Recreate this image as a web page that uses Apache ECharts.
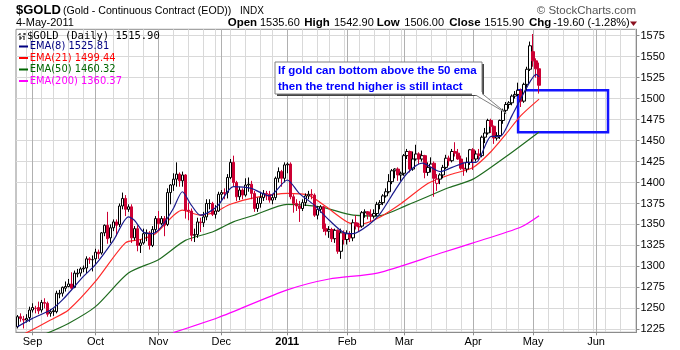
<!DOCTYPE html>
<html>
<head>
<meta charset="utf-8">
<script src="https://cdn.jsdelivr.net/npm/echarts@6/dist/echarts.min.js"></script>
<style>
  html, body { margin: 0; padding: 0; background: #fff; }
  #chart { width: 680px; height: 350px; }
</style>
</head>
<body>
<div id="chart"></div>
<script>
// Trading sessions per month (the axis runs on into June past the last bar)
const sessions = [
  ['2010-08', [25, 26, 27, 30, 31]],
  ['2010-09', [1, 2, 3, 7, 8, 9, 10, 13, 14, 15, 16, 17, 20, 21, 22, 23, 24, 27, 28, 29, 30]],
  ['2010-10', [1, 4, 5, 6, 7, 8, 11, 12, 13, 14, 15, 18, 19, 20, 21, 22, 25, 26, 27, 28, 29]],
  ['2010-11', [1, 2, 3, 4, 5, 8, 9, 10, 11, 12, 15, 16, 17, 18, 19, 22, 23, 24, 26, 29, 30]],
  ['2010-12', [1, 2, 3, 6, 7, 8, 9, 10, 13, 14, 15, 16, 17, 20, 21, 22, 23, 27, 28, 29, 30, 31]],
  ['2011-01', [3, 4, 5, 6, 7, 10, 11, 12, 13, 14, 18, 19, 20, 21, 24, 25, 26, 27, 28, 31]],
  ['2011-02', [1, 2, 3, 4, 7, 8, 9, 10, 11, 14, 15, 16, 17, 18, 22, 23, 24, 25, 28]],
  ['2011-03', [1, 2, 3, 4, 7, 8, 9, 10, 11, 14, 15, 16, 17, 18, 21, 22, 23, 24, 25, 28, 29, 30, 31]],
  ['2011-04', [1, 4, 5, 6, 7, 8, 11, 12, 13, 14, 15, 18, 19, 20, 21, 25, 26, 27, 28, 29]],
  ['2011-05', [2, 3, 4, 5, 6, 9, 10, 11, 12, 13, 16, 17, 18, 19, 20, 23, 24, 25, 26, 27, 31]],
  ['2011-06', [1, 2, 3, 6, 7, 8, 9, 10, 13, 14, 15, 16, 17, 20]]
];

// Daily bars: [open, high, low, close]
const barsAug2010 = [
  [1228, 1242, 1226, 1240], [1240, 1244, 1234, 1238], [1237, 1241, 1226, 1236], [1236, 1243, 1233, 1238],
  [1239, 1252, 1234, 1248]
];
const barsSep2010 = [
  [1248, 1256, 1245, 1251], [1250, 1253, 1244, 1250], [1251, 1258, 1243, 1247], [1248, 1260, 1245, 1257],
  [1257, 1262, 1250, 1256], [1256, 1258, 1240, 1243], [1244, 1249, 1240, 1246], [1247, 1250, 1241, 1246],
  [1246, 1271, 1244, 1268], [1267, 1272, 1262, 1268], [1268, 1276, 1264, 1275], [1274, 1282, 1270, 1276],
  [1276, 1285, 1275, 1279], [1279, 1293, 1272, 1274], [1275, 1295, 1274, 1292], [1291, 1297, 1287, 1292],
  [1292, 1299, 1288, 1297], [1297, 1301, 1293, 1298], [1298, 1312, 1292, 1309], [1309, 1311, 1303, 1308],
  [1308, 1313, 1294, 1308]
];
const barsOct2010 = [
  [1309, 1321, 1303, 1317], [1317, 1320, 1309, 1315], [1316, 1341, 1314, 1340], [1340, 1350, 1336, 1349],
  [1349, 1365, 1327, 1333], [1334, 1350, 1328, 1346], [1346, 1356, 1342, 1353], [1353, 1356, 1336, 1349],
  [1350, 1375, 1347, 1372], [1372, 1388, 1368, 1381], [1381, 1385, 1360, 1368], [1368, 1374, 1365, 1371],
  [1371, 1374, 1328, 1334], [1334, 1348, 1331, 1345], [1345, 1349, 1318, 1325], [1325, 1332, 1316, 1328],
  [1328, 1345, 1326, 1339], [1339, 1344, 1330, 1340], [1340, 1342, 1320, 1325], [1325, 1348, 1323, 1344],
  [1344, 1360, 1340, 1357]
];
const barsNov2010 = [
  [1357, 1366, 1342, 1351], [1351, 1360, 1349, 1357], [1357, 1360, 1336, 1349], [1350, 1393, 1348, 1388],
  [1388, 1398, 1374, 1397], [1397, 1411, 1390, 1404], [1404, 1424, 1395, 1410], [1410, 1412, 1395, 1402],
  [1402, 1413, 1395, 1409], [1409, 1410, 1357, 1367], [1367, 1376, 1355, 1366], [1366, 1369, 1330, 1337],
  [1337, 1345, 1329, 1338], [1338, 1358, 1334, 1353], [1353, 1358, 1341, 1352], [1352, 1365, 1347, 1359],
  [1359, 1380, 1355, 1375], [1375, 1380, 1368, 1375], [1375, 1377, 1360, 1362], [1362, 1373, 1357, 1366],
  [1366, 1389, 1365, 1386]
];
const barsDec2010 = [
  [1386, 1391, 1378, 1388], [1388, 1393, 1380, 1387], [1388, 1410, 1381, 1406], [1406, 1428, 1404, 1424],
  [1424, 1432, 1395, 1400], [1400, 1402, 1378, 1383], [1383, 1395, 1379, 1391], [1391, 1393, 1380, 1385],
  [1385, 1405, 1383, 1397], [1397, 1406, 1389, 1398], [1398, 1402, 1380, 1387], [1387, 1390, 1365, 1369],
  [1369, 1382, 1365, 1375], [1375, 1389, 1370, 1382], [1382, 1391, 1378, 1387], [1387, 1390, 1379, 1386],
  [1386, 1390, 1376, 1379], [1379, 1386, 1374, 1382], [1382, 1407, 1379, 1405], [1405, 1418, 1400, 1413],
  [1413, 1415, 1395, 1405], [1405, 1424, 1400, 1421]
];
const barsJan2011 = [
  [1421, 1424, 1411, 1422], [1422, 1424, 1380, 1383], [1383, 1386, 1364, 1375], [1375, 1380, 1366, 1372],
  [1372, 1378, 1353, 1369], [1369, 1380, 1366, 1376], [1376, 1387, 1372, 1384], [1384, 1390, 1380, 1386],
  [1386, 1392, 1380, 1385], [1385, 1387, 1359, 1361], [1361, 1372, 1356, 1368], [1368, 1373, 1364, 1371],
  [1371, 1372, 1341, 1345], [1345, 1351, 1337, 1342], [1342, 1348, 1334, 1344], [1344, 1346, 1329, 1333],
  [1333, 1345, 1328, 1343], [1343, 1344, 1315, 1318], [1318, 1345, 1309, 1340], [1340, 1343, 1326, 1332]
];
const barsFeb2011 = [
  [1332, 1343, 1326, 1339], [1339, 1342, 1329, 1334], [1334, 1356, 1330, 1352], [1352, 1361, 1344, 1348],
  [1348, 1352, 1341, 1347], [1348, 1366, 1346, 1364], [1364, 1368, 1358, 1365], [1365, 1366, 1356, 1362],
  [1362, 1368, 1353, 1360], [1360, 1368, 1357, 1363], [1363, 1377, 1360, 1374], [1374, 1379, 1368, 1376],
  [1376, 1386, 1373, 1384], [1384, 1393, 1382, 1389], [1389, 1410, 1387, 1401], [1401, 1416, 1398, 1414],
  [1414, 1417, 1405, 1416], [1416, 1418, 1402, 1409], [1409, 1413, 1402, 1411]
];
const barsMar2011 = [
  [1411, 1434, 1408, 1432], [1432, 1440, 1428, 1437], [1437, 1438, 1412, 1416], [1416, 1437, 1414, 1428],
  [1428, 1445, 1426, 1434], [1434, 1436, 1422, 1428], [1428, 1438, 1425, 1432], [1432, 1433, 1405, 1412],
  [1412, 1424, 1408, 1418], [1418, 1430, 1412, 1422], [1423, 1425, 1383, 1405], [1399, 1410, 1390, 1404],
  [1404, 1411, 1398, 1409], [1409, 1421, 1405, 1418], [1418, 1433, 1416, 1429], [1429, 1432, 1420, 1426],
  [1426, 1440, 1424, 1437], [1437, 1448, 1431, 1435], [1435, 1440, 1427, 1428], [1428, 1432, 1415, 1417],
  [1417, 1424, 1408, 1416], [1416, 1430, 1412, 1424], [1424, 1440, 1421, 1439]
];
const barsApr2011 = [
  [1439, 1441, 1415, 1428], [1428, 1438, 1425, 1434], [1434, 1440, 1427, 1432], [1432, 1456, 1430, 1454],
  [1454, 1465, 1447, 1459], [1459, 1476, 1457, 1474], [1474, 1476, 1459, 1467], [1467, 1468, 1446, 1453],
  [1453, 1460, 1450, 1456], [1456, 1475, 1452, 1474], [1474, 1488, 1470, 1486], [1486, 1496, 1482, 1493],
  [1493, 1497, 1488, 1495], [1495, 1505, 1492, 1503], [1503, 1509, 1500, 1505], [1505, 1519, 1503, 1510],
  [1509, 1512, 1490, 1497], [1497, 1519, 1495, 1517], [1517, 1538, 1510, 1535], [1535, 1568, 1533, 1563]
];
const barsMay2011 = [
  [1556, 1577, 1538, 1545], [1545, 1548, 1525, 1535.5], [1535.6, 1542.9, 1506, 1515.9]
];

// Moving averages: [session, value]
const ema8 = [
  ['2010-08-25', 1228], ['2010-09-01', 1238], ['2010-09-10', 1248], ['2010-09-16', 1260], ['2010-09-27', 1288],
  ['2010-10-01', 1302], ['2010-10-11', 1331], ['2010-10-18', 1359], ['2010-10-20', 1355], ['2010-10-25', 1341],
  ['2010-10-28', 1339], ['2010-11-02', 1347], ['2010-11-08', 1369], ['2010-11-11', 1389], ['2010-11-16', 1373],
  ['2010-11-19', 1361], ['2010-11-24', 1365], ['2010-11-30', 1373], ['2010-12-07', 1395], ['2010-12-15', 1393],
  ['2010-12-23', 1384], ['2011-01-03', 1403], ['2011-01-07', 1387], ['2011-01-14', 1373], ['2011-01-24', 1355],
  ['2011-01-31', 1340], ['2011-02-03', 1339], ['2011-02-10', 1349], ['2011-02-16', 1363], ['2011-02-24', 1391],
  ['2011-03-02', 1411], ['2011-03-09', 1423], ['2011-03-17', 1413], ['2011-03-23', 1418], ['2011-03-30', 1424],
  ['2011-04-04', 1424], ['2011-04-11', 1455], ['2011-04-14', 1455], ['2011-04-20', 1480], ['2011-04-28', 1514],
  ['2011-05-03', 1529], ['2011-05-04', 1525.81]
];
const ema21 = [
  ['2010-08-27', 1219], ['2010-09-10', 1236], ['2010-09-20', 1248], ['2010-10-01', 1282], ['2010-10-15', 1328],
  ['2010-10-22', 1332], ['2010-10-29', 1339], ['2010-11-11', 1367], ['2010-11-19', 1361], ['2010-11-29', 1365],
  ['2010-12-06', 1374], ['2010-12-15', 1381], ['2011-01-03', 1387], ['2011-01-12', 1385], ['2011-01-21', 1371],
  ['2011-02-01', 1353], ['2011-02-07', 1350], ['2011-02-15', 1357], ['2011-02-28', 1375], ['2011-03-11', 1399],
  ['2011-03-22', 1409], ['2011-04-01', 1418], ['2011-04-11', 1437], ['2011-04-18', 1458], ['2011-04-26', 1480],
  ['2011-05-04', 1499.44]
];
const ema50 = [
  ['2010-09-08', 1219], ['2010-09-20', 1232], ['2010-10-01', 1252], ['2010-10-18', 1292], ['2010-11-01', 1308],
  ['2010-11-12', 1331], ['2010-11-26', 1341], ['2010-12-07', 1353], ['2010-12-16', 1361], ['2011-01-03', 1374],
  ['2011-01-19', 1371], ['2011-02-03', 1361], ['2011-02-15', 1360], ['2011-03-02', 1373], ['2011-03-22', 1394],
  ['2011-04-01', 1404], ['2011-04-18', 1431], ['2011-05-04', 1460.32]
];
const ema200 = [
  ['2010-11-08', 1221], ['2010-11-30', 1239], ['2011-01-03', 1272], ['2011-01-24', 1285], ['2011-02-15', 1292],
  ['2011-03-17', 1315.6], ['2011-04-01', 1328], ['2011-04-26', 1347], ['2011-05-04', 1360.37]
];

const priceTicks = [1225, 1250, 1275, 1300, 1325, 1350, 1375, 1400, 1425, 1450, 1475, 1500, 1525, 1550, 1575];
const monthLabels = ['Sep', 'Oct', 'Nov', 'Dec', '2011', 'Feb', 'Mar', 'Apr', 'May', 'Jun'];
const zoneTop = 1510, zoneBottom = 1460;
const zoneFrom = '2011-04-25', zoneTo = '2011-06-07';

// ---- build axis categories and candle items ----
const dates = [];
sessions.forEach(([month, days]) => days.forEach(d => dates.push(month + '-' + String(d).padStart(2, '0'))));

const bars = [].concat(barsAug2010, barsSep2010, barsOct2010, barsNov2010, barsDec2010,
  barsJan2011, barsFeb2011, barsMar2011, barsApr2011, barsMay2011);

const UP = '#000000', DOWN = '#cc0033';
const candleData = bars.map((b, i) => {
  const [o, h, l, c] = b;
  const prev = i ? bars[i - 1][3] : o;
  const col = c >= prev ? UP : DOWN;
  const fill = c < o ? col : '#ffffff';
  return { value: [o, c, l, h], itemStyle: { color: fill, color0: fill, borderColor: col, borderColor0: col } };
});

const monthStart = dates.map((d, i) => i > 0 && d.slice(0, 7) !== dates[i - 1].slice(0, 7));
const labelFor = {};
let k = 0;
dates.forEach((d, i) => { if (monthStart[i]) labelFor[d] = monthLabels[k++]; });
const weekStart = dates.map((d, i) => {
  if (i === 0 || monthStart[i]) return false;
  const a = new Date(d + 'T00:00:00Z').getUTCDay();
  const b = new Date(dates[i - 1] + 'T00:00:00Z').getUTCDay();
  if (!(a < b)) return false;
  for (let j = Math.max(0, i - 2); j <= i; j++) if (monthStart[j]) return false;
  return true;
});

const chart = echarts.init(document.getElementById('chart'), null, { renderer: 'canvas' });

const sansFont = "Arial, 'Liberation Sans', Helvetica, sans-serif";
const narrowFont = "'Liberation Sans Narrow', 'Arial Narrow', 'DejaVu Sans Condensed', Arial, sans-serif";

function txt(x, y, text, font, fill, align) {
  return { type: 'text', x: x, y: y, z: 103, silent: true,
    style: { text: text, font: font, fill: fill, align: align || 'left', verticalAlign: 'middle' } };
}

const graphics = [
  // title block
  txt(16, 10.8, '$GOLD', 'bold 13px ' + sansFont, '#000'),
  txt(63, 11, '(Gold - Continuous Contract (EOD))', '10.6px ' + sansFont, '#000'),
  txt(240, 11.3, 'INDX', '10px ' + sansFont, '#000'),
  txt(16, 23.3, '4-May-2011', '11px ' + sansFont, '#000'),
  txt(636, 10.8, '\u00A9 StockCharts.com', '11.5px ' + sansFont, '#555', 'right'),
  txt(227.7, 23, 'Open', 'bold 11.5px ' + sansFont, '#000'),
  txt(260, 23, '1535.60', '11px ' + sansFont, '#000'),
  txt(304.3, 23, 'High', 'bold 11.5px ' + sansFont, '#000'),
  txt(334, 23, '1542.90', '11px ' + sansFont, '#000'),
  txt(376.7, 23, 'Low', 'bold 11.5px ' + sansFont, '#000'),
  txt(404.3, 23, '1506.00', '11px ' + sansFont, '#000'),
  txt(449.3, 23, 'Close', 'bold 11.5px ' + sansFont, '#000'),
  txt(484.3, 23, '1515.90', '11px ' + sansFont, '#000'),
  txt(529, 23, 'Chg', 'bold 11.5px ' + sansFont, '#000'),
  txt(553.3, 23, '-19.60 (-1.28%)', '11px ' + sansFont, '#000'),
  { type: 'polygon', z: 100, silent: true, shape: { points: [[630, 21.5], [637, 21.5], [633.5, 26]] },
    style: { fill: '#8b1020' } },

  // in-plot legend
  { type: 'group', z: 100, silent: true, children: [
    { type: 'line', shape: { x1: 20, y1: 33, x2: 20, y2: 40 }, style: { stroke: '#000', lineWidth: 1 } },
    { type: 'line', shape: { x1: 18, y1: 35, x2: 20, y2: 35 }, style: { stroke: '#000', lineWidth: 1 } },
    { type: 'line', shape: { x1: 20, y1: 38, x2: 22, y2: 38 }, style: { stroke: '#000', lineWidth: 1 } },
    { type: 'line', shape: { x1: 24, y1: 33, x2: 24, y2: 40 }, style: { stroke: '#000', lineWidth: 1 } },
    { type: 'line', shape: { x1: 22, y1: 36, x2: 24, y2: 36 }, style: { stroke: '#000', lineWidth: 1 } },
    { type: 'line', shape: { x1: 24, y1: 34, x2: 26, y2: 34 }, style: { stroke: '#000', lineWidth: 1 } }
  ] },
  txt(27, 36.3, '$GOLD (Daily) 1515.90', "10.5px 'DejaVu Sans Mono', monospace", '#000'),
  { type: 'line', z: 100, silent: true, shape: { x1: 19, y1: 46.5, x2: 28, y2: 46.5 }, style: { stroke: '#000080', lineWidth: 2 } },
  txt(29.7, 46.3, 'EMA(8) 1525.81', '11px ' + narrowFont, '#000080'),
  { type: 'line', z: 100, silent: true, shape: { x1: 19, y1: 58, x2: 28, y2: 58 }, style: { stroke: '#ff0000', lineWidth: 2 } },
  txt(29.7, 57.8, 'EMA(21) 1499.44', '11px ' + narrowFont, '#ff0000'),
  { type: 'line', z: 100, silent: true, shape: { x1: 19, y1: 69.5, x2: 28, y2: 69.5 }, style: { stroke: '#006600', lineWidth: 2 } },
  txt(29.7, 69.3, 'EMA(50) 1460.32', '11px ' + narrowFont, '#006600'),
  { type: 'line', z: 100, silent: true, shape: { x1: 19, y1: 81, x2: 28, y2: 81 }, style: { stroke: '#ff00ff', lineWidth: 2 } },
  txt(29.7, 80.8, 'EMA(200) 1360.37', '11px ' + narrowFont, '#ff00ff'),

  // callout
  { type: 'rect', z: 99, silent: true, shape: { x: 277, y: 64, width: 207, height: 32 }, style: { fill: '#444' } },
  { type: 'polygon', z: 100, silent: true, shape: { points: [[473, 93.5], [482, 93.5], [506, 113]] },
    style: { fill: '#ffffff', stroke: '#808080', lineWidth: 1 } },
  { type: 'rect', z: 101, silent: true, shape: { x: 275, y: 62, width: 207, height: 32 },
    style: { fill: '#ffffff', stroke: '#808080', lineWidth: 1 } },
  { type: 'rect', z: 102, silent: true, shape: { x: 472, y: 92, width: 10, height: 3 }, style: { fill: '#ffffff' } },
  txt(278, 71, 'If gold can bottom above the 50 ema', 'bold 11.5px ' + sansFont, '#0000ff'),
  txt(278, 86.5, 'then the trend higher is still intact', 'bold 11.5px ' + sansFont, '#0000ff')
];

const option = {
  animation: false,
  backgroundColor: '#ffffff',
  grid: { left: 16, right: 43.5, top: 29.3, bottom: 17.7, show: true, borderColor: '#8c8c8c', borderWidth: 1, backgroundColor: '#ffffff' },
  xAxis: [
    {
      type: 'category', data: dates, boundaryGap: true,
      axisLine: { show: false }, axisTick: { show: false }, axisLabel: { show: false },
      splitLine: { show: true, alignWithLabel: true, interval: (i) => weekStart[i], lineStyle: { color: '#d9d9d9', width: 1 } }
    },
    {
      type: 'category', data: dates, boundaryGap: true, position: 'bottom',
      axisLine: { show: true, lineStyle: { color: '#8c8c8c' } },
      axisTick: { show: true, alignWithLabel: true, interval: (i) => monthStart[i], length: 3, lineStyle: { color: '#8c8c8c' } },
      axisLabel: {
        interval: (i) => monthStart[i], margin: 4, color: '#000', fontSize: 11, fontFamily: sansFont,
        formatter: (v) => (labelFor[v] === '2011' ? '{b|2011}' : (labelFor[v] || '')),
        rich: { b: { fontWeight: 'bold', fontSize: 11, fontFamily: sansFont, color: '#000' } }
      },
      splitLine: { show: true, alignWithLabel: true, interval: (i) => monthStart[i], lineStyle: { color: '#b0b0b0', width: 1 } }
    }
  ],
  yAxis: {
    type: 'value', position: 'right', scale: true, min: 1221.42, max: 1582.63,
    axisLine: { show: true, lineStyle: { color: '#8c8c8c' } },
    axisTick: { show: true, length: 3, customValues: priceTicks, lineStyle: { color: '#8c8c8c' } },
    axisLabel: { customValues: priceTicks, margin: 4, color: '#000', fontSize: 11, fontFamily: sansFont,
      formatter: (v) => String(v) },
    splitLine: { show: true, lineStyle: { color: '#d9d9d9', width: 1 } }
  },
  series: [
    {
      type: 'line', name: 'EMA(200)', xAxisIndex: 1, data: ema200, showSymbol: false, smooth: 0.25,
      lineStyle: { color: '#ff00ff', width: 1.2 }, z: 2
    },
    {
      type: 'line', name: 'EMA(50)', xAxisIndex: 1, data: ema50, showSymbol: false, smooth: 0.25,
      lineStyle: { color: '#1f6b1f', width: 1.2 }, z: 2
    },
    {
      type: 'line', name: 'EMA(21)', xAxisIndex: 1, data: ema21, showSymbol: false, smooth: 0.25,
      lineStyle: { color: '#ff2a2a', width: 1.2 }, z: 2
    },
    {
      type: 'candlestick', name: '$GOLD', xAxisIndex: 1, data: candleData, barWidth: 3, z: 3,
      markArea: {
        silent: true,
        itemStyle: { color: 'rgba(0,0,0,0)', borderColor: '#1414ff', borderWidth: 2.5 },
        data: [[{ coord: [zoneFrom, zoneTop] }, { coord: [zoneTo, zoneBottom] }]]
      }
    },
    {
      type: 'line', name: 'EMA(8)', xAxisIndex: 1, data: ema8, showSymbol: false, smooth: 0.25,
      lineStyle: { color: '#1a1a8c', width: 1.2 }, z: 4
    }
  ],
  graphic: graphics
};
chart.setOption(option);
</script>
</body>
</html>
